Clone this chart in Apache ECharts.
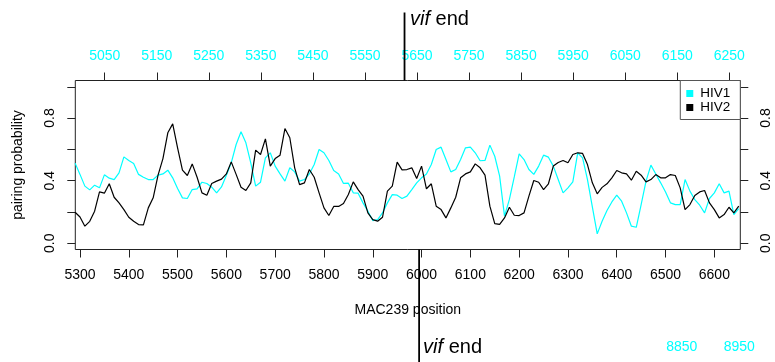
<!DOCTYPE html>
<html>
<head>
<meta charset="utf-8">
<script src="https://cdn.jsdelivr.net/npm/echarts@6/dist/echarts.min.js"></script>
<style>
  html, body { margin: 0; padding: 0; background: #fff; }
  #chart { width: 775px; height: 362px; }
</style>
</head>
<body>
<div id="chart"></div>
<script>
// MAC239 genome positions at which pairing probability was sampled
const positions = [
  5290,5300,5310,5320,5330,5340,5350,5360,5370,5380,
  5390,5400,5410,5420,5430,5440,5450,5460,5470,5480,
  5490,5500,5510,5520,5530,5540,5550,5560,5570,5580,
  5590,5600,5610,5620,5630,5640,5650,5660,5670,5680,
  5690,5700,5710,5720,5730,5740,5750,5760,5770,5780,
  5790,5800,5810,5820,5830,5840,5850,5860,5870,5880,
  5890,5900,5910,5920,5930,5940,5950,5960,5970,5980,
  5990,6000,6010,6020,6030,6040,6050,6060,6070,6080,
  6090,6100,6110,6120,6130,6140,6150,6160,6170,6180,
  6190,6200,6210,6220,6230,6240,6250,6260,6270,6280,
  6290,6300,6310,6320,6330,6340,6350,6360,6370,6380,
  6390,6400,6410,6420,6430,6440,6450,6460,6470,6480,
  6490,6500,6510,6520,6530,6540,6550,6560,6570,6580,
  6590,6600,6610,6620,6630,6640,6650
];

// HIV1 pairing probability (cyan)
const hiv1 = [
  0.512,0.440,0.365,0.341,0.371,0.354,0.437,0.416,0.407,0.450,
  0.552,0.529,0.510,0.440,0.422,0.407,0.407,0.435,0.443,0.467,
  0.418,0.350,0.290,0.286,0.343,0.348,0.390,0.382,0.358,0.322,
  0.360,0.435,0.514,0.631,0.712,0.642,0.514,0.365,0.390,0.546,
  0.578,0.493,0.443,0.397,0.482,0.456,0.397,0.407,0.443,0.503,
  0.599,0.578,0.529,0.465,0.443,0.382,0.384,0.322,0.320,0.258,
  0.205,0.145,0.151,0.194,0.258,0.311,0.307,0.286,0.301,0.343,
  0.386,0.418,0.443,0.503,0.599,0.614,0.535,0.456,0.471,0.535,
  0.610,0.614,0.578,0.527,0.529,0.627,0.556,0.429,0.173,0.280,
  0.424,0.571,0.535,0.471,0.440,0.493,0.563,0.550,0.493,0.407,
  0.322,0.354,0.392,0.578,0.546,0.407,0.232,0.060,0.141,0.209,
  0.264,0.307,0.269,0.194,0.109,0.102,0.247,0.397,0.499,0.443,
  0.386,0.328,0.258,0.247,0.247,0.407,0.333,0.279,0.243,0.194,
  0.286,0.322,0.380,0.322,0.333,0.183,0.222
];

// HIV2 pairing probability (black)
const hiv2 = [
  0.198,0.168,0.109,0.140,0.205,0.328,0.320,0.380,0.294,0.258,
  0.215,0.166,0.140,0.119,0.117,0.226,0.290,0.435,0.541,0.706,
  0.763,0.610,0.467,0.433,0.507,0.422,0.322,0.307,0.382,0.397,
  0.410,0.443,0.520,0.440,0.358,0.337,0.386,0.595,0.567,0.667,
  0.493,0.541,0.563,0.733,0.674,0.482,0.375,0.386,0.471,0.422,
  0.322,0.226,0.177,0.235,0.235,0.254,0.311,0.392,0.343,0.301,
  0.194,0.151,0.141,0.166,0.333,0.365,0.518,0.469,0.471,0.482,
  0.414,0.493,0.348,0.380,0.237,0.215,0.162,0.226,0.294,0.418,
  0.443,0.456,0.507,0.482,0.435,0.237,0.125,0.120,0.162,0.230,
  0.179,0.177,0.194,0.301,0.401,0.390,0.343,0.380,0.493,0.516,
  0.529,0.514,0.567,0.578,0.574,0.503,0.386,0.316,0.357,0.380,
  0.418,0.465,0.450,0.443,0.403,0.460,0.435,0.392,0.407,0.439,
  0.418,0.418,0.439,0.433,0.354,0.215,0.247,0.305,0.328,0.337,
  0.258,0.215,0.162,0.183,0.230,0.194,0.237
];

// Tick positions and labels
const macTicks = [5300,5400,5500,5600,5700,5800,5900,6000,6100,6200,6300,6400,6500,6600];
const hiv1Ticks = [5050,5150,5250,5350,5450,5550,5650,5750,5850,5950,6050,6150,6250];
const lowerCoordLabels = [8850, 8950];
const probTicks = [0, 0.2, 0.4, 0.6, 0.8, 1.0];
const probLabels = [0, 0.4, 0.8];

// Ends of the vif gene: HIV1 coordinate (top axis) and MAC239 coordinate (bottom axis)
const vifEndHIV1 = 5626;
const vifEndMAC = 5995;

const FONT = '"Liberation Sans", Arial, Helvetica, sans-serif';
const CYAN = '#00ffff';
const INK = '#222';

const chart = echarts.init(document.getElementById('chart'), null, { renderer: 'canvas' });

const pair = (xs, ys) => xs.map((x, i) => [x, ys[i]]);
const plain = v => String(v);
const oneDecimal = v => v.toFixed(1);

const tickStyle = { show: true, length: 8, inside: false, lineStyle: { color: INK, width: 1 } };
const hiddenLine = { show: false, onZero: false };

const option = {
  animation: false,
  textStyle: { fontFamily: FONT },
  grid: {
    left: 75.3, right: 34.7, top: 80.5, bottom: 112.5,
    show: true, borderColor: INK, borderWidth: 1, backgroundColor: 'transparent'
  },
  legend: {
    data: ['HIV1', 'HIV2'],
    orient: 'vertical',
    right: 34.7, top: 80.5,
    icon: 'rect',
    itemWidth: 7, itemHeight: 7, itemGap: 0,
    padding: [6, 10, 5, 6],
    borderColor: '#555', borderWidth: 1,
    backgroundColor: '#fff',
    textStyle: { fontSize: 13.5, color: '#000', fontFamily: FONT, lineHeight: 12.5, padding: [0, 0, 0, 2] }
  },
  xAxis: [
    {
      type: 'value', position: 'bottom', min: 5290.4, max: 6653.2,
      name: 'MAC239 position', nameLocation: 'middle', nameGap: 54,
      nameTextStyle: { fontSize: 14, color: '#000' },
      axisLine: hiddenLine, splitLine: { show: false },
      axisTick: Object.assign({ customValues: macTicks }, tickStyle),
      axisLabel: { customValues: macTicks, fontSize: 14, color: '#000', margin: 19, formatter: plain }
    },
    {
      type: 'value', position: 'top', min: 4993.5, max: 6271.1,
      axisLine: hiddenLine, splitLine: { show: false },
      axisTick: Object.assign({ customValues: hiv1Ticks }, tickStyle),
      axisLabel: { customValues: hiv1Ticks, fontSize: 14, color: CYAN, margin: 17, formatter: plain }
    },
    {
      type: 'value', position: 'bottom', offset: 91, min: 7797.2, max: 8951.7,
      axisLine: hiddenLine, splitLine: { show: false }, axisTick: { show: false },
      axisLabel: { customValues: lowerCoordLabels, fontSize: 14, color: CYAN, margin: 0, formatter: plain }
    }
  ],
  yAxis: [
    {
      type: 'value', position: 'left', min: -0.04, max: 1.04,
      name: 'pairing probability', nameLocation: 'middle', nameGap: 50, nameRotate: 90,
      nameTextStyle: { fontSize: 14, color: '#000' },
      axisLine: hiddenLine, splitLine: { show: false },
      axisTick: Object.assign({ customValues: probTicks }, tickStyle),
      axisLabel: { customValues: probLabels, rotate: 90, fontSize: 14, color: '#000', margin: 18,
                   formatter: oneDecimal }
    },
    {
      type: 'value', position: 'right', min: -0.04, max: 1.04,
      axisLine: hiddenLine, splitLine: { show: false },
      axisTick: Object.assign({ customValues: probTicks }, tickStyle),
      axisLabel: { customValues: probLabels, rotate: 90, fontSize: 14, color: '#000', margin: 19,
                   formatter: oneDecimal }
    }
  ],
  series: [
    {
      name: 'HIV1', type: 'line', xAxisIndex: 0, yAxisIndex: 0,
      data: pair(positions, hiv1), showSymbol: false, symbol: 'none',
      color: CYAN, lineStyle: { color: CYAN, width: 1.2 }, itemStyle: { color: CYAN }
    },
    {
      name: 'HIV2', type: 'line', xAxisIndex: 0, yAxisIndex: 0,
      data: pair(positions, hiv2), showSymbol: false, symbol: 'none',
      color: '#000', lineStyle: { color: '#000', width: 1.2 }, itemStyle: { color: '#000' }
    }
  ]
};

chart.setOption(option);

// vif end markers, placed through the axes' own scales
const xTop = chart.convertToPixel({ xAxisIndex: 1 }, vifEndHIV1);
const xBot = chart.convertToPixel({ xAxisIndex: 0 }, vifEndMAC);
const gridTop = 80.5, gridBottom = 362 - 112.5;

const vifLabel = (x, y) => ({
  type: 'text', left: x, top: y, z: 100,
  style: {
    text: '{i|vif} end', fontSize: 20, fontFamily: FONT, fill: '#000',
    rich: { i: { fontStyle: 'italic', fontSize: 20, fontFamily: FONT, fill: '#000' } }
  }
});

chart.setOption({
  graphic: [
    { type: 'line', z: 100, shape: { x1: xTop, y1: 12.5, x2: xTop, y2: gridTop },
      style: { stroke: '#000', lineWidth: 1.8 } },
    { type: 'line', z: 100, shape: { x1: xBot, y1: gridBottom, x2: xBot, y2: 362 },
      style: { stroke: '#000', lineWidth: 1.8 } },
    vifLabel(xTop + 5.5, 9),
    vifLabel(xBot + 4, 337)
  ]
});
</script>
</body>
</html>
